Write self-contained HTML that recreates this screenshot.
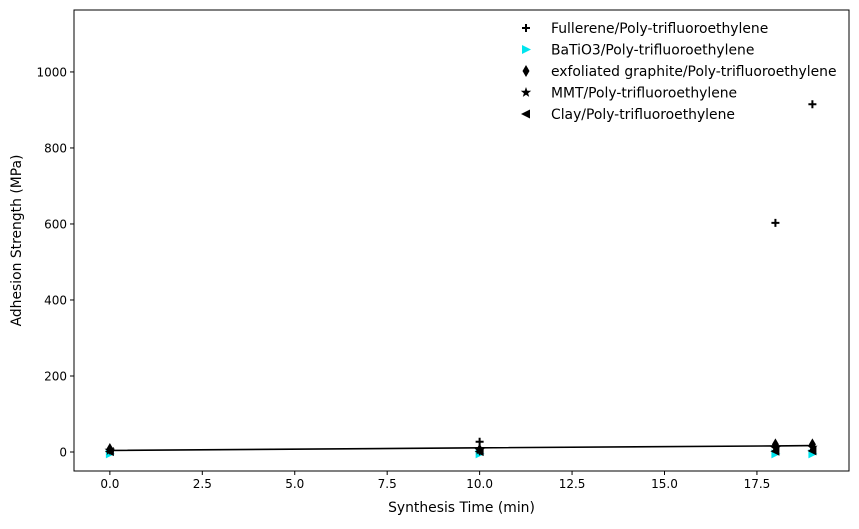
<!DOCTYPE html>
<html><head><meta charset="utf-8"><style>
body{margin:0;background:#fff;font-family:"DejaVu Sans",sans-serif;}
svg text{font-family:"DejaVu Sans",sans-serif;font-size:12px;fill:#000}
svg text.big{font-size:13.9px}
</style></head><body>
<svg id="chart" width="859" height="525" xmlns="http://www.w3.org/2000/svg"></svg>
<script>
const times = [0, 10, 18, 19];
const fullerene = [2, 27, 603, 915];
const batio3 = [-5, -5, -5, -5];
const graphite = [8, 6, 20, 20];
const mmt = [4, 5, 10, 12];
const clay = [1, 1, 2, 3];
const fitLine = [4, 11, 16, 17];
const xTicks = [0, 2.5, 5, 7.5, 10, 12.5, 15, 17.5];
const xTickLabels = ["0.0","2.5","5.0","7.5","10.0","12.5","15.0","17.5"];
const yTicks = [0, 200, 400, 600, 800, 1000];
const yTickLabels = ["0","200","400","600","800","1000"];
const seriesNames = ["Fullerene/Poly-trifluoroethylene","BaTiO3/Poly-trifluoroethylene","exfoliated graphite/Poly-trifluoroethylene","MMT/Poly-trifluoroethylene","Clay/Poly-trifluoroethylene"];

const svg = document.getElementById('chart');
const NS = 'http://www.w3.org/2000/svg';
const L=74,R=849,T=10,B=471;
const X0=-0.97,X1=19.99,Y0=-50,Y1=1163;
const sx=v=>L+(v-X0)/(X1-X0)*(R-L);
const sy=v=>B-(v-Y0)/(Y1-Y0)*(B-T);
function mk(tag,attrs,parent){const e=document.createElementNS(NS,tag);for(const k in attrs)e.setAttribute(k,attrs[k]);(parent||svg).appendChild(e);return e;}

xTicks.forEach((t,i)=>{
  const g=mk('g',{});
  
  
  mk('line',{x1:sx(t),x2:sx(t),y1:B,y2:B+4,stroke:'#000'},g);
  const tx=mk('text',{x:sx(t),y:B+17,'text-anchor':'middle'},g);tx.textContent=xTickLabels[i];
});
yTicks.forEach((t,i)=>{
  const g=mk('g',{});
  
  
  mk('line',{x1:L-4,x2:L,y1:sy(t),y2:sy(t),stroke:'#000'},g);
  const tx=mk('text',{x:L-7,y:sy(t)+4.5,'text-anchor':'end'},g);tx.textContent=yTickLabels[i];
});

const pl=mk('polyline',{points:times.map((t,i)=>sx(t)+','+sy(fitLine[i])).join(' '),fill:'none',stroke:'#000','stroke-width':1.6});



function marker(kind,x,y,color,parent){
  if(kind==='plus'){mk('path',{d:`M${x-4},${y}H${x+4}M${x},${y-4}V${y+4}`,stroke:color,'stroke-width':2},parent);}
  else if(kind==='right'){mk('polygon',{points:`${x-4},${y-4.5} ${x+5},${y} ${x-4},${y+4.5}`,fill:color},parent);}
  else if(kind==='left'){mk('polygon',{points:`${x+4},${y-4.5} ${x-5},${y} ${x+4},${y+4.5}`,fill:color},parent);}
  else if(kind==='diamond'){mk('polygon',{points:`${x},${y-6} ${x+3.5},${y} ${x},${y+6} ${x-3.5},${y}`,fill:color},parent);}
  else if(kind==='star'){let p=[];for(let k=0;k<10;k++){const r=k%2?2.2:5.5,a=-Math.PI/2+k*Math.PI/5;p.push((x+r*Math.cos(a)).toFixed(1)+','+(y+r*Math.sin(a)).toFixed(1));}mk('polygon',{points:p.join(' '),fill:color},parent);}
}
const series=[[fullerene,'plus','#000','fullerene'],[batio3,'right','#00e5ee','batio3'],[graphite,'diamond','#000','graphite'],[mmt,'star','#000','mmt'],[clay,'left','#000','clay']];
series.forEach(([vals,kind,color,name])=>{
  const g=mk('g',{});
  
  
  vals.forEach((v,i)=>marker(kind,sx(times[i]),sy(v),color,g));
});

const frame=mk('rect',{x:L,y:T,width:R-L,height:B-T,fill:'none',stroke:'#000','stroke-width':1});



const lg=mk('g',{});


series.forEach(([vals,kind,color,name],i)=>{
  const y=28+i*21.5;
  const e=mk('g',{},lg);
  
  
  marker(kind,526,y,color,e);
  const t=mk('text',{x:551,y:y+5,class:'big'},e);t.textContent=seriesNames[i];
});

const xt=mk('text',{x:(L+R)/2,y:512,'text-anchor':'middle',class:'big'});xt.textContent='Synthesis Time (min)';


const yt=mk('text',{x:0,y:0,'text-anchor':'middle',class:'big',transform:`translate(21,${(T+B)/2}) rotate(-90)`});yt.textContent='Adhesion Strength (MPa)';


</script>
</body></html>
